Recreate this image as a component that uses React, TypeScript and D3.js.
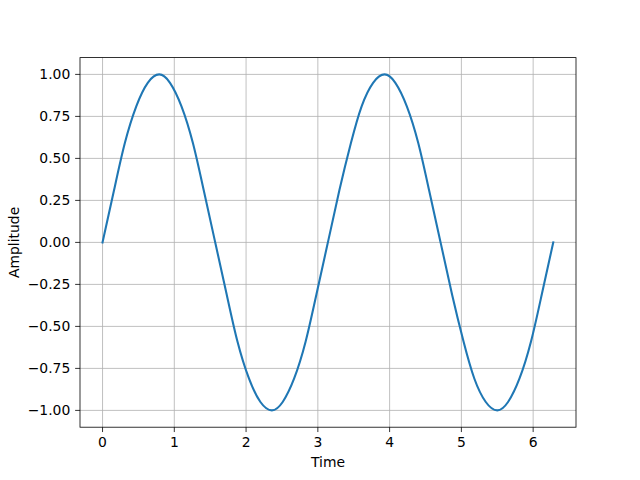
import * as d3 from "d3";
import { useEffect, useRef } from "react";

const times = [
  0, 0.16, 0.31, 0.47, 0.63, 0.79, 0.94, 1.1, 1.26, 1.41, 1.57, 1.73, 1.88,
  2.04, 2.2, 2.36, 2.51, 2.67, 2.83, 2.98, 3.14, 3.3, 3.46, 3.61, 3.77, 3.93,
  4.08, 4.24, 4.4, 4.55, 4.71, 4.87, 5.03, 5.18, 5.34, 5.5, 5.65, 5.81, 5.97,
  6.12, 6.28,
];
const amplitudes = [
  0, 0.31, 0.59, 0.81, 0.95, 1.0, 0.95, 0.81, 0.59, 0.31, 0, -0.31, -0.59,
  -0.81, -0.95, -1.0, -0.95, -0.81, -0.59, -0.31, 0, 0.31, 0.59, 0.81, 0.95,
  1.0, 0.95, 0.81, 0.59, 0.31, 0, -0.31, -0.59, -0.81, -0.95, -1.0, -0.95,
  -0.81, -0.59, -0.31, 0,
];
const xTicks = [0, 1, 2, 3, 4, 5, 6];
const yTicks = [-1, -0.75, -0.5, -0.25, 0, 0.25, 0.5, 0.75, 1];

const App = () => {
  const ref = useRef<SVGSVGElement>(null);

  useEffect(() => {
    const W = 640;
    const H = 480;
    const margin = { top: 57.6, right: 64, bottom: 52.8, left: 80 };
    const svg = d3.select(ref.current);
    svg.selectAll("*").remove();

    const font = "DejaVu Sans, sans-serif";
    const tickLen = 4.86;
    const pad = 4.86;

    const x = d3
      .scaleLinear()
      .domain([-0.314, 6.597])
      .range([margin.left, W - margin.right]);
    const y = d3
      .scaleLinear()
      .domain([-1.1, 1.1])
      .range([H - margin.bottom, margin.top]);

    svg.append("rect").attr("width", W).attr("height", H).attr("fill", "white");

    // grid
    const grid = svg.append("g").attr("stroke", "#b0b0b0").attr("stroke-width", 0.8);
    grid
      .selectAll("line.gx")
      .data(xTicks)
      .join("line")
      .attr("x1", (d) => x(d))
      .attr("x2", (d) => x(d))
      .attr("y1", y(-1.1))
      .attr("y2", y(1.1));
    grid
      .selectAll("line.gy")
      .data(yTicks)
      .join("line")
      .attr("class", "gy")
      .attr("x1", x(-0.314))
      .attr("x2", x(6.597))
      .attr("y1", (d) => y(d))
      .attr("y2", (d) => y(d));

    // line
    const pts = times.map((t, i) => [t, amplitudes[i]] as [number, number]);
    const line = d3
      .line<[number, number]>()
      .x((d) => x(d[0]))
      .y((d) => y(d[1]))
      .curve(d3.curveNatural);
    svg
      .append("path")
      .datum(pts)
      .attr("d", line)
      .attr("fill", "none")
      .attr("stroke", "#1f77b4")
      .attr("stroke-width", 2.08)
      .attr("stroke-linecap", "square");

    // frame
    svg
      .append("rect")
      .attr("x", margin.left)
      .attr("y", margin.top)
      .attr("width", W - margin.left - margin.right)
      .attr("height", H - margin.top - margin.bottom)
      .attr("fill", "none")
      .attr("stroke", "black")
      .attr("stroke-width", 0.8);

    // x axis ticks
    const xg = svg.append("g").attr("transform", `translate(0,${H - margin.bottom})`);
    const xt = xg.selectAll("g").data(xTicks).join("g");
    xt.append("line")
      .attr("x1", (d) => x(d))
      .attr("x2", (d) => x(d))
      .attr("y1", 0)
      .attr("y2", tickLen)
      .attr("stroke", "black")
      .attr("stroke-width", 0.8);
    xt.append("text")
      .attr("x", (d) => x(d))
      .attr("y", tickLen + pad)
      .attr("dy", "0.76em")
      .attr("text-anchor", "middle")
      .attr("font-family", font)
      .attr("font-size", 13.9)
      .text((d) => d3.format("d")(d));

    // y axis ticks
    const yg = svg.append("g").attr("transform", `translate(${margin.left},0)`);
    const yt = yg.selectAll("g").data(yTicks).join("g");
    yt.append("line")
      .attr("x1", 0)
      .attr("x2", -tickLen)
      .attr("y1", (d) => y(d))
      .attr("y2", (d) => y(d))
      .attr("stroke", "black")
      .attr("stroke-width", 0.8);
    yt.append("text")
      .attr("x", -tickLen - pad)
      .attr("y", (d) => y(d))
      .attr("dy", "0.36em")
      .attr("text-anchor", "end")
      .attr("font-family", font)
      .attr("font-size", 13.9)
      .text((d) => d3.format(".2f")(d).replace("-", "\u2212"));

    // axis labels
    svg
      .append("text")
      .attr("x", (margin.left + W - margin.right) / 2)
      .attr("y", 467)
      .attr("text-anchor", "middle")
      .attr("font-family", font)
      .attr("font-size", 13.9)
      .text("Time");
    svg
      .append("text")
      .attr("transform", `translate(19,${(margin.top + H - margin.bottom) / 2}) rotate(-90)`)
      .attr("text-anchor", "middle")
      .attr("font-family", font)
      .attr("font-size", 13.9)
      .text("Amplitude");
  }, []);

  return (
    <svg
      ref={ref}
      width={640}
      height={480}
      style={{ position: "absolute", left: 0, top: 0, display: "block" }}
    />
  );
};

export default App;
